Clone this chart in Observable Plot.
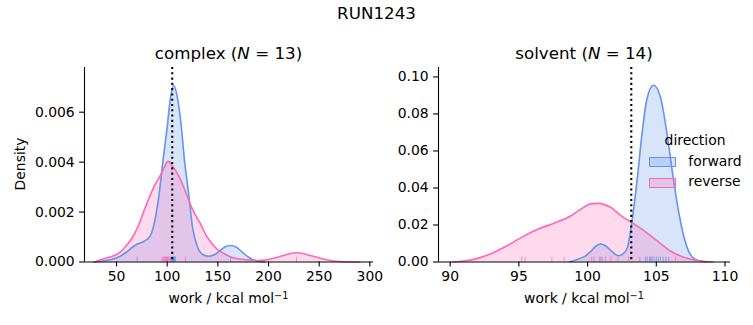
<!DOCTYPE html>
<html><head><meta charset="utf-8">
<script src="https://cdn.jsdelivr.net/npm/d3@7"></script>
<script src="https://cdn.jsdelivr.net/npm/@observablehq/plot@0.6"></script>
<style>
body{margin:0;background:#fff;}
#wrap{position:relative;width:753px;height:325px;font-family:"DejaVu Sans",sans-serif;color:#000;overflow:hidden;background:#fff}
#wrap svg{position:absolute;top:0}
.lbl{position:absolute;white-space:nowrap;transform:translate(-50%,-50%);line-height:1}
.lft{position:absolute;white-space:nowrap;transform:translate(0,-50%);line-height:1;font-size:13.9px}
sup{font-size:0.7em;vertical-align:0.45em;line-height:0}
.patch{position:absolute;box-sizing:border-box;width:27px;height:10px;border:1.3px solid}
</style></head><body><div id="wrap"></div>
<script>
const directions = ["forward", "reverse"];
const colors = ["#6495ED", "#FF69B4"];

// complex panel: density curves
const complexForwardWork = [28,35,45,52,60,66,71,76,80,84,88,92,96,100,103,106.5,110,114,117,121,125,130,135,141,147,152,157,162.5,168,174,180,188,196];
const complexForwardDensity = [0,0.00003,0.0001,0.0002,0.0004,0.0006,0.00073,0.0008,0.0009,0.0011,0.0017,0.0027,0.0041,0.0054,0.0065,0.00707,0.0066,0.0054,0.0041,0.0028,0.0014,0.0006,0.0003,0.00023,0.0003,0.00045,0.0006,0.00066,0.0006,0.0004,0.0002,0.00004,0];
const complexReverseWork = [28,35,42,50,56,61,66,71,77.6,84,88,92.4,96,101,106,112,118.8,124,129,133,138,143,149,156,163,170,176,183,190,197,205,213,220,227.6,235,242,248,256,264.5,275,290];
const complexReverseDensity = [0,0.0001,0.00018,0.0003,0.00048,0.00072,0.001,0.0014,0.0021,0.00274,0.0031,0.0034,0.0037,0.00403,0.0038,0.0034,0.00274,0.0022,0.0018,0.00152,0.0011,0.0008,0.00052,0.00034,0.0002,0.00013,0.0001,0.00007,0.00006,0.00008,0.00015,0.00024,0.00032,0.00037,0.00033,0.00025,0.00019,0.0001,0.00004,0.00001,0];
const complexForwardRug = [70.4,103.5,104.2,104.8,105.2,105.6,106.0,106.4,106.8,107.2,107.6,108.0,162.5];
const complexReverseRug = [95.0,96.0,97.0,97.8,98.5,99.2,99.8,100.3,101.0,101.8,103.0,118.0,227.6];
const complexEstimate = 105.0;
const complexXTicks = [50,100,150,200,250,300];
const complexYTicks = [0,0.002,0.004,0.006];

// solvent panel
const solventForwardWork = [98.7,99.3,99.8,100.2,100.6,100.95,101.3,101.7,102.25,102.6,102.9,103.2,103.6,103.96,104.3,104.8,105.3,105.78,106.26,106.75,107.24,107.8,108.6];
const solventForwardDensity = [0,0.0015,0.003,0.0055,0.0085,0.0097,0.0088,0.0062,0.0034,0.0045,0.0079,0.0205,0.044,0.0693,0.0874,0.0955,0.0892,0.0693,0.044,0.0223,0.0079,0.0016,0];
const solventReverseWork = [90.2,91,92.06,93,94,95.2,96.4,97.6,98.8,99.6,100.2,100.8,101.66,102.6,103.2,104.1,105.05,106,107,108.2,109.1];
const solventReverseDensity = [0,0.0005,0.0021,0.0046,0.0082,0.0133,0.0178,0.0211,0.025,0.029,0.0314,0.0317,0.0296,0.0241,0.0214,0.0169,0.0115,0.0061,0.0025,0.0005,0];
const solventForwardRug = [100.9,101.05,104.2,104.35,104.5,104.6,104.7,104.85,105.0,105.15,105.3,105.5,105.7,105.9];
const solventReverseRug = [95.2,95.45,97.4,98.3,100.3,100.45,100.9,101.3,101.7,102.2,103.0,103.8,104.6,106.4];
const solventEstimate = 103.18;
const solventXTicks = [90,95,100,105,110];
const solventYTicks = [0,0.02,0.04,0.06,0.08,0.10];

function rowsOf(work, dens, dir) { return work.map((w, i) => ({work: w, density: dens[i], direction: dir})); }
function rugOf(vals, dir) { return vals.map(v => ({work: v, direction: dir})); }

const H = 325, MT = 67, MB = 63.5;
function panel(o) {
  const frameH = H - MT - MB;
  return Plot.plot({
    width: o.width, height: H,
    marginLeft: o.ml, marginRight: o.mr, marginTop: MT, marginBottom: MB,
    x: {domain: o.xDomain},
    y: {domain: o.yDomain},
    color: {domain: directions, range: colors},
    style: {fontFamily: "DejaVu Sans", fontSize: "13.9px", color: "#000", background: "transparent", overflow: "visible"},
    marks: [
      Plot.areaY(o.curves, {x: "work", y1: 0, y2: "density", z: "direction", fill: "direction", fillOpacity: 0.25, curve: "monotone-x"}),
      Plot.lineY(o.curves, {x: "work", y: "density", z: "direction", stroke: "direction", strokeWidth: 1.6, curve: "monotone-x"}),
      Plot.ruleX(o.rugs, {x: "work", stroke: "direction", strokeWidth: 1, strokeOpacity: 0.75, insetTop: frameH * 0.975}),
      Plot.ruleX([o.est], {stroke: "black", strokeWidth: 2.08, strokeDasharray: "2.08,3.2"}),
      Plot.ruleY([0], {stroke: "black", strokeWidth: 1.1}),
      Plot.ruleX([o.xDomain[0]], {stroke: "black", strokeWidth: 1.1}),
      Plot.axisX({ticks: o.xTicks, tickSize: 4.9, tickPadding: 4.2, strokeWidth: 1.1, label: null, fill: "black"}),
      Plot.axisY({ticks: o.yTicks, tickSize: 4.9, tickPadding: 4.9, strokeWidth: 1.1, label: null, tickFormat: o.yFormat, fill: "black"})
    ]
  });
}

const wrap = document.getElementById("wrap");
const left = panel({
  width: 380, ml: 84, mr: 7,
  xDomain: [18.4, 303.6], yDomain: [0, 0.00779],
  xTicks: complexXTicks, yTicks: complexYTicks, yFormat: d3.format(".3f"),
  curves: [...rowsOf(complexForwardWork, complexForwardDensity, "forward"), ...rowsOf(complexReverseWork, complexReverseDensity, "reverse")],
  rugs: [...rugOf(complexForwardRug, "forward"), ...rugOf(complexReverseRug, "reverse")],
  est: complexEstimate
});
left.style.left = "0px";
wrap.appendChild(left);
const right = panel({
  width: 373, ml: 58, mr: 23,
  xDomain: [89.15, 110.4], yDomain: [0, 0.1051],
  xTicks: solventXTicks, yTicks: solventYTicks, yFormat: d3.format(".2f"),
  curves: [...rowsOf(solventForwardWork, solventForwardDensity, "forward"), ...rowsOf(solventReverseWork, solventReverseDensity, "reverse")],
  rugs: [...rugOf(solventForwardRug, "forward"), ...rugOf(solventReverseRug, "reverse")],
  est: solventEstimate
});
right.style.left = "380px";
wrap.appendChild(right);

function addLabel(html, x, y, size, cls = "lbl", extra = "") {
  const d = document.createElement("div");
  d.className = cls;
  d.innerHTML = html;
  d.style.left = x + "px"; d.style.top = y + "px"; d.style.fontSize = size + "px";
  if (extra) d.style.cssText += extra;
  wrap.appendChild(d);
  return d;
}
addLabel("RUN1243", 376.5, 13.2, 16.7);
addLabel("complex (<i>N</i> = 13)", 228.5, 52.9, 16.7);
addLabel("solvent (<i>N</i> = 14)", 584, 52.9, 16.7);
addLabel("work / kcal mol<sup>−1</sup>", 228.5, 299, 13.9);
addLabel("work / kcal mol<sup>−1</sup>", 584, 299, 13.9);
addLabel("Density", 21, 164.3, 13.9, "lbl", "transform:translate(-50%,-50%) rotate(-90deg);");

// legend
addLabel("direction", 695, 140.7, 13.9);
directions.forEach((dir, i) => {
  const p = document.createElement("div");
  p.className = "patch";
  const c = d3.color(colors[i]);
  p.style.left = "649.3px";
  p.style.top = (157.3 + i * 21) + "px";
  p.style.borderColor = colors[i];
  p.style.background = `rgba(${c.r},${c.g},${c.b},0.25)`;
  wrap.appendChild(p);
  addLabel(dir, 688.3, 161.7 + i * 20.6, 13.9, "lft");
});
</script></body></html>
